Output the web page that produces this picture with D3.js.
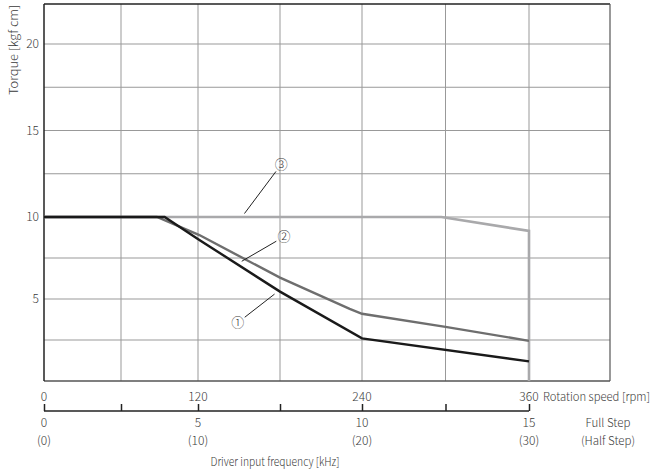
<!DOCTYPE html>
<html>
<head>
<meta charset="utf-8">
<script src="https://cdn.jsdelivr.net/npm/d3@7"></script>
<style>
  body { margin: 0; background: #fff; }
  text { font-family: "Noto Sans CJK JP", "Noto Sans", sans-serif; font-weight: 300; fill: #3a3a3a; }
</style>
</head>
<body>
<div id="chart"></div>
<script>
// torque curves, x in rpm, y in kgf cm
var curve1 = [[0, 10], [94, 10], [121, 8.6], [180, 5.45], [240, 2.6], [360, 1.2]];
var curve2 = [[0, 10], [88, 10], [121, 8.9], [180, 6.3], [231, 4.4], [240, 4.1], [300, 3.3], [360, 2.45]];
var curve3 = [[0, 10], [297, 10], [360, 9.15], [360, 0]];
var yTicks = [5, 10, 15, 20];
var rpmTicks = [0, 120, 240, 360];
var khzTicks = [0, 5, 10, 15];
var halfStepLabels = ['(0)', '(10)', '(20)', '(30)'];
// callouts: label, point on curve, label position (rpm, kgf cm)
var callouts = [
  { label: '\u2460', at: [176, 5.3], text: [149, 3.55] },
  { label: '\u2461', at: [152, 7.3], text: [183, 8.8] },
  { label: '\u2462', at: [154, 10.2], text: [181, 13.05] }
];

var width = 654, height = 474;
var svg = d3.select('#chart').append('svg').attr('width', width).attr('height', height);

// the picture is slightly non-linear, so use piecewise scales
var x = d3.scaleLinear().domain([0, 120, 240, 360, 418]).range([44, 198, 362, 529, 610]);
var khz = d3.scaleLinear().domain([0, 5, 10, 15]).range([44, 198, 362, 529]);
var y = d3.scaleLinear().domain([0, 10, 20, 22.4]).range([381, 217, 44, 4]);

// grid
var gx = d3.range(60, 361, 60);
svg.append('g').selectAll('line').data(gx).join('line')
  .attr('x1', function (d) { return x(d); }).attr('x2', function (d) { return x(d); })
  .attr('y1', y(22.4)).attr('y2', y(0))
  .attr('stroke', '#999').attr('stroke-width', 1);
var gy = d3.range(2.5, 20.1, 2.5);
svg.append('g').selectAll('line').data(gy).join('line')
  .attr('x1', x(0)).attr('x2', x(418))
  .attr('y1', function (d) { return y(d); }).attr('y2', function (d) { return y(d); })
  .attr('stroke', '#999').attr('stroke-width', 1);

// frame
svg.append('line').attr('x1', x(0)).attr('x2', x(418)).attr('y1', y(22.4)).attr('y2', y(22.4)).attr('stroke', '#222').attr('stroke-width', 1.5);
svg.append('line').attr('x1', x(418)).attr('x2', x(418)).attr('y1', y(22.4)).attr('y2', y(0)).attr('stroke', '#555').attr('stroke-width', 1.2);
svg.append('line').attr('x1', x(0)).attr('x2', x(418)).attr('y1', y(0)).attr('y2', y(0)).attr('stroke', '#555').attr('stroke-width', 1.5);
svg.append('line').attr('x1', x(0)).attr('x2', x(0)).attr('y1', y(22.4)).attr('y2', y(0)).attr('stroke', '#222').attr('stroke-width', 1.5);

// curves
var line = d3.line().x(function (d) { return x(d[0]); }).y(function (d) { return y(d[1]); });
svg.append('path').datum(curve3).attr('d', line).attr('fill', 'none').attr('stroke', '#a9a9ab').attr('stroke-width', 2.6);
svg.append('path').datum(curve2).attr('d', line).attr('fill', 'none').attr('stroke', '#6e6e6e').attr('stroke-width', 2.4);
svg.append('path').datum(curve1).attr('d', line).attr('fill', 'none').attr('stroke', '#1a1a1a').attr('stroke-width', 2.4);

// callouts
callouts.forEach(function (c) {
  var tx = x(c.text[0]), ty = y(c.text[1]);
  var ax = x(c.at[0]), ay = y(c.at[1]);
  var dx = ax - tx, dy = ay - ty, len = Math.sqrt(dx * dx + dy * dy);
  svg.append('line')
    .attr('x1', tx + dx / len * 9).attr('y1', ty + dy / len * 9)
    .attr('x2', ax).attr('y2', ay)
    .attr('stroke', '#222').attr('stroke-width', 1);
  svg.append('text').attr('x', tx).attr('y', ty).attr('dy', '0.36em')
    .attr('text-anchor', 'middle').attr('font-size', 13).text(c.label);
});

// y labels
svg.append('g').selectAll('text').data(yTicks).join('text')
  .attr('x', 39).attr('y', function (d) { return y(d); }).attr('dy', '0.36em')
  .attr('text-anchor', 'end').attr('font-size', 12).text(function (d) { return d; });
svg.append('text').attr('transform', 'translate(14,50) rotate(-90)')
  .attr('text-anchor', 'middle').attr('dy', '0.36em').attr('font-size', 11.5)
  .attr('textLength', 90).attr('lengthAdjust', 'spacingAndGlyphs').text('Torque [kgf cm]');

// bottom axis
var axisY = 411;
svg.append('g').attr('transform', 'translate(0,' + axisY + ')')
  .call(d3.axisTop(khz).tickValues(d3.range(0, 15.1, 2.5)).tickSize(7).tickFormat(''))
  .call(function (g) {
    g.select('.domain').attr('stroke', '#222').attr('stroke-width', 1.5).attr('d', 'M' + khz(0) + ',0H' + khz(15));
    g.selectAll('.tick line').attr('stroke', '#222').attr('stroke-width', 1.5);
  });

svg.append('g').selectAll('text').data(rpmTicks).join('text')
  .attr('x', function (d) { return x(d); }).attr('y', 397).attr('dy', '0.36em')
  .attr('text-anchor', 'middle').attr('font-size', 12).text(function (d) { return d; });
svg.append('text').attr('x', 543).attr('y', 397).attr('dy', '0.36em')
  .attr('font-size', 11.5).attr('textLength', 107).attr('lengthAdjust', 'spacingAndGlyphs')
  .text('Rotation speed [rpm]');

svg.append('g').selectAll('text').data(khzTicks).join('text')
  .attr('x', function (d) { return khz(d); }).attr('y', 423).attr('dy', '0.36em')
  .attr('text-anchor', 'middle').attr('font-size', 12).text(function (d) { return d; });
svg.append('g').selectAll('text').data(khzTicks).join('text')
  .attr('x', function (d) { return khz(d); }).attr('y', 441).attr('dy', '0.36em')
  .attr('text-anchor', 'middle').attr('font-size', 12).text(function (d, i) { return halfStepLabels[i]; });
svg.append('text').attr('x', 608).attr('y', 423).attr('dy', '0.36em')
  .attr('text-anchor', 'middle').attr('font-size', 11.5).text('Full Step');
svg.append('text').attr('x', 608).attr('y', 441).attr('dy', '0.36em')
  .attr('text-anchor', 'middle').attr('font-size', 11.5).text('(Half Step)');
svg.append('text').attr('x', 275).attr('y', 462).attr('dy', '0.36em')
  .attr('text-anchor', 'middle').attr('font-size', 11.5)
  .attr('textLength', 129).attr('lengthAdjust', 'spacingAndGlyphs').text('Driver input frequency [kHz]');
</script>
</body>
</html>
